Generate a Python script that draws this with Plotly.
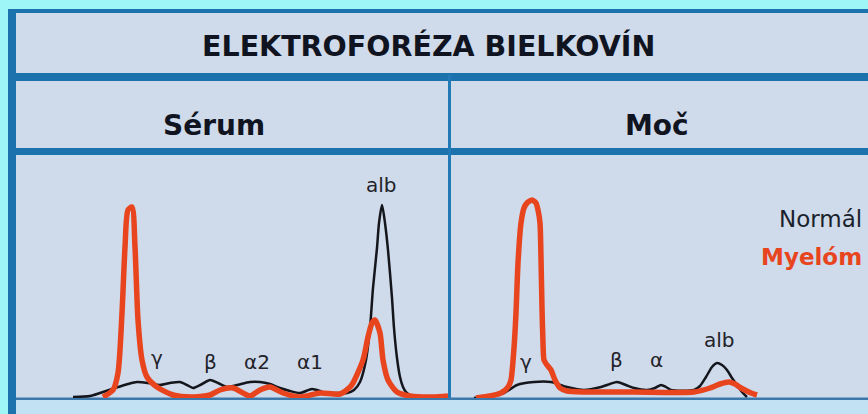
import plotly.graph_objects as go

W, H = 868, 414

# ---------------- data ----------------
# panel coordinates: x = migration distance within panel, y = intensity above baseline
serum_normal_x = [57, 74, 84, 99, 112, 121, 132, 144, 154, 164, 171, 177, 186, 194, 202, 211, 221, 234, 244, 254, 264, 274, 284, 296, 304, 309, 319, 331, 338, 344, 350, 354, 357, 361, 363, 366, 369, 372, 376, 378, 381, 384, 387, 390, 394, 398]
serum_normal_y = [1, 2, 5, 10, 14, 16, 15, 13, 15, 16, 13, 10, 14, 18, 15, 11, 13, 16, 16, 14, 10, 7, 5, 9, 7, 5, 5, 5, 8, 16, 38, 70, 110, 150, 175, 193, 175, 148, 100, 70, 40, 21, 11, 6, 3, 1]

serum_myeloma_x = [87, 97, 102, 106, 109, 112, 116, 119, 122, 126, 131, 141, 157, 177, 194, 204, 217, 227, 234, 244, 254, 267, 284, 304, 324, 334, 337, 347, 352, 356, 359, 364, 367, 372, 381, 394, 417, 432]
serum_myeloma_y = [1, 8, 25, 85, 151, 188, 191, 151, 78, 38, 21, 11, 3, 1, 3, 8, 10, 5, 2, 8, 11, 5, 1, 5, 4, 11, 15, 38, 61, 75, 78, 65, 38, 18, 6, 2, 1, 2]

moc_normal_x = [23, 39, 53, 66, 83, 100, 116, 133, 150, 159, 166, 175, 183, 196, 204, 210, 215, 220, 243, 249, 255, 261, 266, 271, 276, 281, 286, 291, 296]
moc_normal_y = [0, 2, 5, 13, 16, 16, 11, 8, 11, 14, 16, 13, 10, 8, 10, 13, 11, 8, 8, 12, 21, 31, 35, 33, 28, 20, 13, 6, 1]

moc_myeloma_x = [25, 39, 50, 57, 60, 63, 65, 67, 70, 73, 76, 81, 85, 87, 89, 90, 91, 92, 93, 96, 100, 104, 109, 116, 133, 183, 243, 259, 269, 278, 284, 290, 300, 306]
moc_myeloma_y = [0, 2, 5, 11, 18, 50, 85, 135, 175, 190, 195, 198, 195, 188, 175, 140, 90, 55, 38, 33, 28, 18, 10, 7, 6, 6, 6, 10, 14, 16, 14, 10, 5, 3]

serum_labels = ["γ", "β", "α2", "α1", "alb"]
serum_label_x = [141, 194, 241, 294, 365]
serum_label_y = [40, 36, 36, 36, 213]

moc_labels = ["γ", "β", "α", "alb"]
moc_label_x = [75, 165, 205, 268]
moc_label_y = [36, 38, 38, 58]

title_text = "ELEKTROFORÉZA BIELKOVÍN"
panel_titles = ["Sérum", "Moč"]
legend_names = ["Normál", "Myelóm"]

# ---------------- styling ----------------
CYAN = "#9ff6f6"
BLUE = "#1b72ad"
PANEL = "#cfdaeb"
BELOW = "#c2e1f2"
BASE = "#3c78aa"
BLACK = "#14161c"
RED = "#e8441d"


def px(x):
    return x / W


def py(y):
    return 1 - y / H


fig = go.Figure()

fig.add_trace(go.Scatter(x=serum_normal_x, y=serum_normal_y, mode="lines",
                         line=dict(color=BLACK, width=2.5, shape="spline", smoothing=0.7),
                         xaxis="x", yaxis="y", name=legend_names[0]))
fig.add_trace(go.Scatter(x=serum_myeloma_x, y=serum_myeloma_y, mode="lines",
                         line=dict(color=RED, width=5.5, shape="spline", smoothing=0.7),
                         xaxis="x", yaxis="y", name=legend_names[1]))
fig.add_trace(go.Scatter(x=moc_normal_x, y=moc_normal_y, mode="lines",
                         line=dict(color=BLACK, width=2.5, shape="spline", smoothing=0.7),
                         xaxis="x2", yaxis="y2", name=legend_names[0]))
fig.add_trace(go.Scatter(x=moc_myeloma_x, y=moc_myeloma_y, mode="lines",
                         line=dict(color=RED, width=5.5, shape="spline", smoothing=0.6),
                         xaxis="x2", yaxis="y2", name=legend_names[1]))

shapes = [
    dict(type="rect", xref="paper", yref="paper", x0=px(8), x1=px(W), y0=py(H), y1=py(9),
         fillcolor=BLUE, line=dict(width=0), layer="below"),
    dict(type="rect", xref="paper", yref="paper", x0=px(16), x1=px(W), y0=py(H), y1=py(13),
         fillcolor=PANEL, line=dict(width=0), layer="below"),
    dict(type="rect", xref="paper", yref="paper", x0=px(16), x1=px(W), y0=py(81), y1=py(73),
         fillcolor=BLUE, line=dict(width=0), layer="below"),
    dict(type="rect", xref="paper", yref="paper", x0=px(16), x1=px(W), y0=py(155), y1=py(148),
         fillcolor=BLUE, line=dict(width=0), layer="below"),
    dict(type="rect", xref="paper", yref="paper", x0=px(448), x1=px(451), y0=py(399), y1=py(75),
         fillcolor="#2179b5", line=dict(width=0), layer="below"),
    dict(type="rect", xref="paper", yref="paper", x0=px(16), x1=px(W), y0=py(H), y1=py(400),
         fillcolor=BELOW, line=dict(width=0), layer="below"),
    dict(type="rect", xref="paper", yref="paper", x0=px(16), x1=px(W), y0=py(400), y1=py(397.5),
         fillcolor=BASE, line=dict(width=0), layer="below"),
]

annotations = [
    dict(text="<b>%s</b>" % title_text, xref="paper", yref="paper", x=px(428), y=py(46),
         xanchor="center", yanchor="middle", showarrow=False,
         font=dict(family="DejaVu Sans", size=28.5, color="#101420")),
    dict(text="<b>%s</b>" % panel_titles[0], xref="paper", yref="paper", x=px(214), y=py(125),
         xanchor="center", yanchor="middle", showarrow=False,
         font=dict(family="DejaVu Sans", size=28, color="#101420")),
    dict(text="<b>%s</b>" % panel_titles[1], xref="paper", yref="paper", x=px(657), y=py(125),
         xanchor="center", yanchor="middle", showarrow=False,
         font=dict(family="DejaVu Sans", size=28, color="#101420")),
    dict(text=legend_names[0], xref="paper", yref="paper", x=px(864), y=py(219),
         xanchor="right", yanchor="middle", showarrow=False,
         font=dict(family="DejaVu Sans", size=23, color="#1a1f2b")),
    dict(text="<b>%s</b>" % legend_names[1], xref="paper", yref="paper", x=px(864), y=py(257),
         xanchor="right", yanchor="middle", showarrow=False,
         font=dict(family="DejaVu Sans", size=23, color=RED)),
]

for t, x, y in zip(serum_labels, serum_label_x, serum_label_y):
    annotations.append(dict(text=t, xref="x", yref="y", x=x, y=y, xanchor="center",
                            yanchor="middle", showarrow=False,
                            font=dict(family="DejaVu Sans", size=20, color="#222228")))
for t, x, y in zip(moc_labels, moc_label_x, moc_label_y):
    annotations.append(dict(text=t, xref="x2", yref="y2", x=x, y=y, xanchor="center",
                            yanchor="middle", showarrow=False,
                            font=dict(family="DejaVu Sans", size=20, color="#222228")))

fig.update_layout(
    width=W, height=H,
    margin=dict(l=0, r=0, t=0, b=0),
    paper_bgcolor=CYAN,
    plot_bgcolor="rgba(0,0,0,0)",
    showlegend=False,
    xaxis=dict(domain=[px(16), px(448)], range=[0, 432], visible=False, fixedrange=True),
    yaxis=dict(domain=[py(398), py(155)], range=[0, 243], visible=False, fixedrange=True),
    xaxis2=dict(domain=[px(451), 1], range=[0, 417], visible=False, fixedrange=True),
    yaxis2=dict(domain=[py(398), py(155)], range=[0, 243], visible=False, fixedrange=True,
                anchor="x2"),
    shapes=shapes,
    annotations=annotations,
)

fig.write_html("out.html", config={"displayModeBar": False},
               post_script="document.body.style.margin='0';document.body.style.overflow='hidden';")
